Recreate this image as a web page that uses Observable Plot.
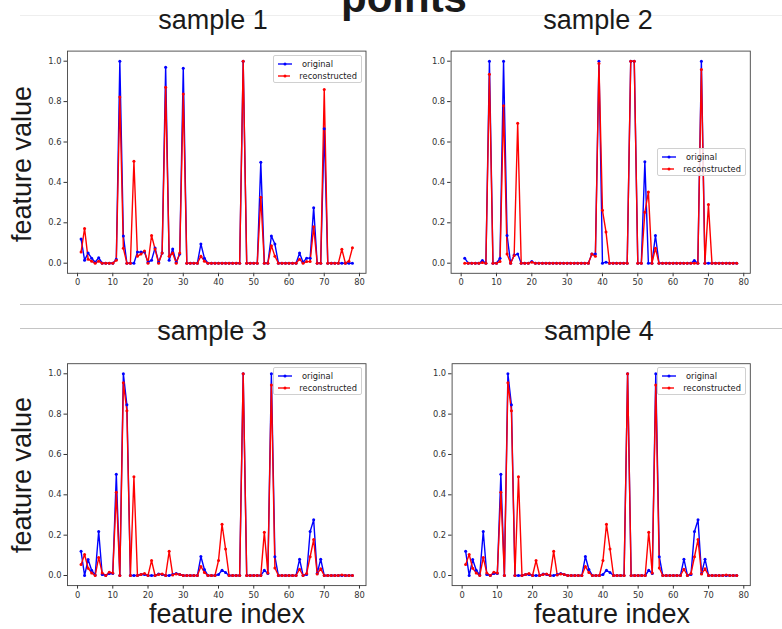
<!DOCTYPE html>
<html><head><meta charset="utf-8">
<script src="https://cdn.jsdelivr.net/npm/d3@7"></script>
<script src="https://cdn.jsdelivr.net/npm/@observablehq/plot@0.6"></script>
<style>
body{margin:0;background:#fff;}
#page{position:relative;width:782px;height:629px;overflow:hidden;background:#fff;}
.abs{position:absolute;}
.legend{position:absolute;box-sizing:border-box;border:1px solid #d0d0d0;border-radius:2px;background:rgba(255,255,255,0.85);font-family:"DejaVu Sans",sans-serif;font-size:8.3px;color:#222;padding:2px 4px 1px 3px;}
.legend .row{display:flex;align-items:center;height:12px;}
.legend svg{margin-right:9px;}
</style></head>
<body><div id="page"></div>
<script>
// ---------- data ----------
const featureIndex = [1,2,3,4,5,6,7,8,9,10,11,12,13,14,15,16,17,18,19,20,21,22,23,24,25,26,27,28,29,30,31,32,33,34,35,36,37,38,39,40,41,42,43,44,45,46,47,48,49,50,51,52,53,54,55,56,57,58,59,60,61,62,63,64,65,66,67,68,69,70,71,72,73,74,75,76,77,78];

const s1Original = [0.12,0.015,0.05,0.025,0.005,0.027,0,0,0,0,0.02,1.0,0.135,0,0,0,0.055,0.055,0.055,0.005,0.015,0.075,0.005,0.05,0.97,0.015,0.07,0.005,0.045,0.965,
  0,0,0,0,0.095,0.025,0,0,0,0,0,0,0,0,0,0,1.0,0,0,0,0,0.5,0,0,0.135,0.095,0,0,0,0,0,0,0.05,0.005,0.025,0.025,0.275,0,0,0.665,0,0,0,0,0,0,0,0];
const s1Reconstructed = [0.055,0.172,0.02,0.01,0,0.01,0,0,0,0,0.015,0.823,0.074,0,0,0.505,0.035,0.045,0.06,0,0.137,0.07,0,0.05,0.871,0.035,0.05,0,0.05,0.838,
  0,0,0,0,0.035,0.01,0,0,0,0,0,0,0,0,0,0,1.0,0,0,0,0,0.327,0,0,0.087,0.035,0,0,0,0,0,0,0.02,0,0.008,0.008,0.18,0,0,0.86,0,0,0,0,0.069,0,0.01,0.076];

const s2Original = [0.025,0,0,0,0,0.013,0,1.0,0,0,0.025,1.0,0.137,0,0.04,0.045,0,0,0,0.008,
  0,0,0,0,0,0,0,0,0,0,0,0,0,0,0,0,0.045,0.045,1.0,0,0.005,0,0,0,0,0,0,1.0,1.0,0,0,0.502,0,0,0.137,
  0,0,0,0,0,0,0,0,0,0,0.013,0,1.0,0,0,0,0,0,0,0,0,0,0];
const s2Reconstructed = [0,0,0,0,0,0.003,0,0.936,0,0,0.008,0.779,0.045,0,0.038,0.693,0,0,0,0.005,
  0,0,0,0,0,0,0,0,0,0,0,0,0,0,0,0,0.045,0.035,0.988,0.262,0.155,0,0,0,0,0,0,1.0,1.0,0,0,0.252,0.353,0,0.074,
  0,0,0,0,0,0,0,0,0,0,0,0,0.959,0,0.29,0,0,0,0,0,0,0,0];

const s3Original = [0.12,0,0.079,0.026,0.003,0.218,0.005,0,0.01,0.01,0.502,0,1.0,0.846,0,0,0,0.005,0.005,0,0,0,0.008,0.005,0,0,0.005,0.01,0.005,
  0,0,0,0,0,0.094,0.03,0,0,0,0.005,0.026,0.015,0,0,0,0,1.0,0,0,0,0,0,0.026,0.01,1.0,0.093,0,0,0,0,0,0,0.081,0,0.005,0.218,0.276,0.01,0.081,0,0,0,0,0,0,0,0,0];
const s3Reconstructed = [0.054,0.104,0.036,0.013,0,0.089,0.013,0,0.016,0.013,0.413,0,0.955,0.817,0,0.489,0,0.005,0.01,0,0.074,0,0.005,0.008,0,0.12,0.003,0.008,0.005,
  0,0,0,0,0,0.045,0.015,0,0,0,0.074,0.254,0.132,0,0,0,0,1.0,0,0,0,0,0,0.215,0.012,0.945,0.037,0,0,0,0,0,0,0.031,0,0.01,0.093,0.178,0.008,0.033,0,0,0,0,0,0.003,0,0,0];

const s4Original = [0.12,0,0.079,0.026,0.003,0.218,0.005,0,0.01,0.01,0.502,0,1.0,0.846,0,0,0,0.005,0.005,0,0,0,0.008,0.005,0,0,0.005,0.01,0.005,
  0,0,0,0,0,0.094,0.03,0,0,0,0.005,0.026,0.015,0,0,0,0,1.0,0,0,0,0,0,0.026,0.01,1.0,0.093,0,0,0,0,0,0,0.081,0,0.005,0.218,0.276,0.01,0.081,0,0,0,0,0,0,0,0,0];
const s4Reconstructed = [0.054,0.104,0.036,0.013,0,0.089,0.013,0,0.016,0.013,0.413,0,0.955,0.817,0,0.489,0,0.005,0.01,0,0.074,0,0.005,0.008,0,0.12,0.003,0.008,0.005,
  0,0,0,0,0,0.045,0.015,0,0,0,0.074,0.254,0.132,0,0,0,0,1.0,0,0,0,0,0,0.215,0.012,0.945,0.037,0,0,0,0,0,0,0.031,0,0.01,0.093,0.178,0.008,0.033,0,0,0,0,0,0.003,0,0,0];

const xTicks = [0,10,20,30,40,50,60,70,80];
const yTicks = [0,0.2,0.4,0.6,0.8,1.0];
const seriesNames = ["original","reconstructed"];
const seriesColors = ["#0000ff","#ff0000"];
const panelTitles = ["sample 1","sample 2","sample 3","sample 4"];
const titleText = "points";
const yLabel = "feature value";
const xLabel = "feature index";

// ---------- layout ----------
const page = document.getElementById("page");
const W = 782, H = 629;
const NS = "http://www.w3.org/2000/svg";
const deco = document.createElementNS(NS, "svg");
deco.setAttribute("width", W); deco.setAttribute("height", H);
deco.setAttribute("class", "abs"); deco.style.left = "0px"; deco.style.top = "0px";
page.appendChild(deco);
function addLine(x1, y1, x2, y2, color) {
  const l = document.createElementNS(NS, "line");
  l.setAttribute("x1", x1); l.setAttribute("y1", y1); l.setAttribute("x2", x2); l.setAttribute("y2", y2);
  l.setAttribute("stroke", color); l.setAttribute("stroke-width", 1);
  deco.appendChild(l);
}
function addText(str, x, y, size, weight, rotate) {
  const t = document.createElementNS(NS, "text");
  t.textContent = str;
  t.setAttribute("x", x); t.setAttribute("y", y);
  t.setAttribute("text-anchor", "middle");
  t.setAttribute("font-family", '"Liberation Sans",Arial,sans-serif');
  t.setAttribute("font-size", size);
  t.setAttribute("font-weight", weight);
  t.setAttribute("fill", "#1a1a1a");
  if (rotate) t.setAttribute("transform", `rotate(-90 ${x} ${y})`);
  deco.appendChild(t);
}
addLine(20, 15.5, W, 15.5, "#eeeeee");
addLine(20, 304.5, W, 304.5, "#c4c4c4");
addLine(20, 328.5, W, 328.5, "#c4c4c4");
addText(titleText, 404, 12, 42, 700);
addText(panelTitles[0], 213, 29, 27, 400);
addText(panelTitles[1], 598, 29, 27, 400);
addText(panelTitles[2], 212, 340, 27, 400);
addText(panelTitles[3], 599, 340, 27, 400);
addText(yLabel, 31, 164, 27, 400, true);
addText(yLabel, 31, 475, 27, 400, true);
addText(xLabel, 227, 623, 27, 400);
addText(xLabel, 612, 623, 27, 400);

function makePanel(orig, recon, m) {
  const rows = [];
  featureIndex.forEach((x, i) => rows.push({x, y: orig[i], s: seriesNames[0]}));
  featureIndex.forEach((x, i) => rows.push({x, y: recon[i], s: seriesNames[1]}));
  const chart = Plot.plot({
    width: m.w, height: m.h,
    marginLeft: m.ml, marginRight: m.mr, marginTop: m.mt, marginBottom: m.mb,
    style: {fontFamily: "DejaVu Sans", fontSize: "8.3px", color: "#333", background: "transparent", overflow: "visible"},
    x: {domain: [-2.85, 81.85], ticks: xTicks, tickSize: 3.5, tickPadding: 2.5, tickFormat: d => String(d), label: null},
    y: {domain: [-0.05, 1.05], ticks: yTicks, tickSize: 3.5, tickPadding: 2.5, tickFormat: d3.format(".1f"), label: null},
    color: {domain: seriesNames, range: seriesColors},
    marks: [
      Plot.line(rows, {x: "x", y: "y", z: "s", stroke: "s", strokeWidth: 1.4}),
      Plot.dot(rows, {x: "x", y: "y", fill: "s", r: 1.5}),
      Plot.frame({stroke: "#444", strokeWidth: 0.9})
    ]
  });
  chart.style.position = "absolute";
  chart.style.left = m.left + "px";
  chart.style.top = m.top + "px";
  page.appendChild(chart);
}
function makeLegend(left, top) {
  const box = document.createElement("div");
  box.className = "legend";
  box.style.left = left + "px"; box.style.top = top + "px";
  box.style.width = "89px"; box.style.height = "28px";
  seriesNames.forEach((name, i) => {
    const row = document.createElement("div"); row.className = "row";
    row.innerHTML = `<svg width="16" height="6"><line x1="1" y1="3" x2="15" y2="3" stroke="${seriesColors[i]}" stroke-width="1.35"/><circle cx="8" cy="3" r="1.5" fill="${seriesColors[i]}"/></svg><span>${name}</span>`;
    box.appendChild(row);
  });
  page.appendChild(box);
}
makePanel(s1Original, s1Reconstructed, {left: 20, top: 40, w: 355, h: 255, ml: 47, mr: 9.5, mt: 10.6, mb: 22.2});
makePanel(s2Original, s2Reconstructed, {left: 405, top: 40, w: 355, h: 255, ml: 45.6, mr: 10.2, mt: 10.6, mb: 22.2});
makePanel(s3Original, s3Reconstructed, {left: 20, top: 350, w: 355, h: 255, ml: 47, mr: 9.5, mt: 13.2, mb: 19.9});
makePanel(s4Original, s4Reconstructed, {left: 405, top: 350, w: 355, h: 255, ml: 46.6, mr: 10.2, mt: 13.2, mb: 19.9});
makeLegend(273, 55);
makeLegend(657, 148);
makeLegend(273, 367);
makeLegend(657, 367);
</script>
</body></html>
